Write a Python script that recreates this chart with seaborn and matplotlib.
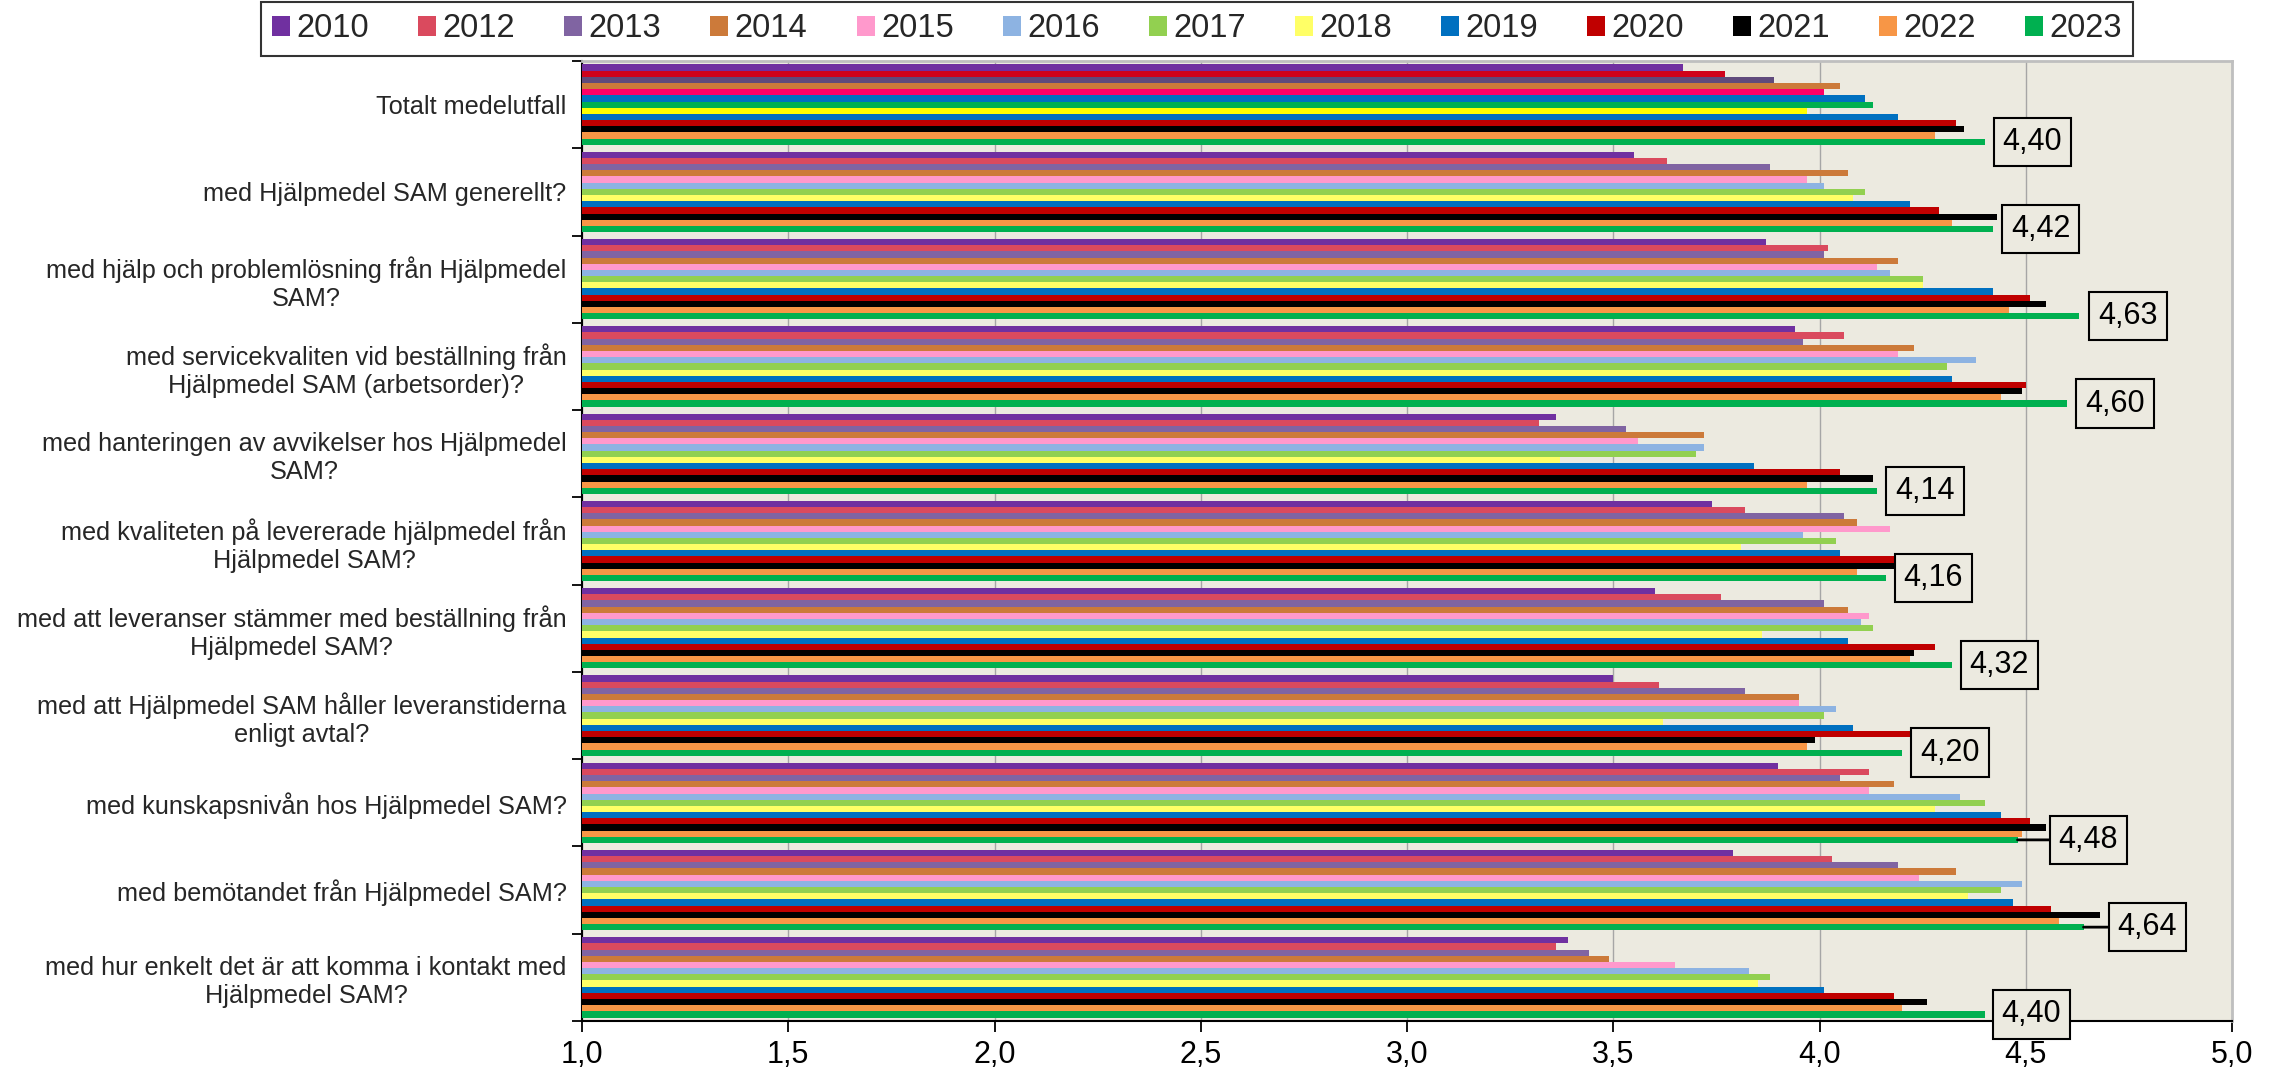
import matplotlib
matplotlib.use("Agg")
import matplotlib.pyplot as plt
from matplotlib.patches import Patch
from matplotlib.ticker import FuncFormatter, FixedLocator
import seaborn as sns
import pandas as pd
import numpy as np

categories = [
    "Totalt medelutfall",
    "med Hjälpmedel SAM generellt?",
    "med hjälp och problemlösning från Hjälpmedel\nSAM?",
    "med servicekvaliten vid beställning från\nHjälpmedel SAM (arbetsorder)?",
    "med hanteringen av avvikelser hos Hjälpmedel\nSAM?",
    "med kvaliteten på levererade hjälpmedel från\nHjälpmedel SAM?",
    "med att leveranser stämmer med beställning från\nHjälpmedel SAM?",
    "med att Hjälpmedel SAM håller leveranstiderna\nenligt avtal?",
    "med kunskapsnivån hos Hjälpmedel SAM?",
    "med bemötandet från Hjälpmedel SAM?",
    "med hur enkelt det är att komma i kontakt med\nHjälpmedel SAM?",
]

years = ["2010", "2012", "2013", "2014", "2015", "2016", "2017",
         "2018", "2019", "2020", "2021", "2022", "2023"]

v2010 = [3.67, 3.55, 3.87, 3.94, 3.36, 3.74, 3.60, 3.50, 3.90, 3.79, 3.39]
v2012 = [3.77, 3.63, 4.02, 4.06, 3.32, 3.82, 3.76, 3.61, 4.12, 4.03, 3.36]
v2013 = [3.89, 3.88, 4.01, 3.96, 3.53, 4.06, 4.01, 3.82, 4.05, 4.19, 3.44]
v2014 = [4.05, 4.07, 4.19, 4.23, 3.72, 4.09, 4.07, 3.95, 4.18, 4.33, 3.49]
v2015 = [4.01, 3.97, 4.14, 4.19, 3.56, 4.17, 4.12, 3.95, 4.12, 4.24, 3.65]
v2016 = [4.11, 4.01, 4.17, 4.38, 3.72, 3.96, 4.10, 4.04, 4.34, 4.49, 3.83]
v2017 = [4.13, 4.11, 4.25, 4.31, 3.70, 4.04, 4.13, 4.01, 4.40, 4.44, 3.88]
v2018 = [3.97, 4.08, 4.25, 4.22, 3.37, 3.81, 3.86, 3.62, 4.28, 4.36, 3.85]
v2019 = [4.19, 4.22, 4.42, 4.32, 3.84, 4.05, 4.07, 4.08, 4.44, 4.47, 4.01]
v2020 = [4.33, 4.29, 4.51, 4.50, 4.05, 4.22, 4.28, 4.25, 4.51, 4.56, 4.18]
v2021 = [4.35, 4.43, 4.55, 4.49, 4.13, 4.20, 4.23, 3.99, 4.55, 4.68, 4.26]
v2022 = [4.28, 4.32, 4.46, 4.44, 3.97, 4.09, 4.22, 3.97, 4.49, 4.58, 4.20]
v2023 = [4.40, 4.42, 4.63, 4.60, 4.14, 4.16, 4.32, 4.20, 4.48, 4.64, 4.40]

series = [v2010, v2012, v2013, v2014, v2015, v2016, v2017,
          v2018, v2019, v2020, v2021, v2022, v2023]

colors = ["#7030A0", "#DA4A5E", "#8064A2", "#CC7A3A", "#FF99CC", "#8DB3E2",
          "#92D050", "#FFFF66", "#0070C0", "#C00000", "#000000", "#F79646",
          "#00B050"]
# the first category was drawn with slightly different fills in the original
first_group_colors = ["#7030A0", "#D0021B", "#604A7B", "#CC7A3A", "#FF0066",
                      "#0070C0", "#00B050", "#FFFF00", "#0070C0", "#C00000",
                      "#000000", "#F79646", "#00B050"]

# label box offsets (px from bar end) and whether a leader line is drawn
label_offset_px = [9, 9, 10, 9, 9, 9, 9, 9, 32, 25, 8]
label_leader = [False] * 8 + [True, True, False]

rows = []
for y, vals in zip(years, series):
    for c, v in zip(categories, vals):
        rows.append({"category": c, "year": y, "value": v})
df = pd.DataFrame(rows)

sns.set_theme(style="white")
plt.rcParams["font.family"] = ["Liberation Sans", "DejaVu Sans"]

BG = "#ECEAE0"
W, H = 2277, 1070
fig = plt.figure(figsize=(W / 100, H / 100), dpi=100)
fig.patch.set_facecolor("white")
ax = fig.add_axes([582 / W, 1 - 1021 / H, (2232 - 582) / W, (1021 - 61) / H])
ax.set_facecolor(BG)

sns.barplot(data=df, x="value", y="category", hue="year", orient="h",
            order=categories, hue_order=years,
            palette=dict(zip(years, colors)), saturation=1,
            width=0.92, linewidth=0, ax=ax, legend=False, zorder=3)

for i, cont in enumerate(ax.containers):
    cont[0].set_facecolor(first_group_colors[i])

ax.set_xlim(1.0, 5.0)
ax.set_ylim(len(categories) - 0.5, -0.5)
ax.set_xlabel("")
ax.set_ylabel("")

ax.xaxis.set_major_locator(FixedLocator(np.arange(1.0, 5.01, 0.5)))
ax.xaxis.set_major_formatter(FuncFormatter(lambda v, p: f"{v:.1f}".replace(".", ",")))
ax.grid(axis="x", color="#A6A6A6", lw=1.0, zorder=0)
ax.set_axisbelow(True)
ax.tick_params(axis="x", which="major", direction="out", length=8, width=1.3,
               colors="black", labelsize=22, pad=6, bottom=True)

ax.set_yticks(range(len(categories)))
ax.set_yticklabels(categories, fontsize=18.2, multialignment="center")
ax.set_yticks(np.arange(-0.5, len(categories), 1.0), minor=True)
ax.tick_params(axis="y", which="major", length=0, pad=11)
ax.tick_params(axis="y", which="minor", direction="out", length=7, width=1.3,
               colors="black", left=True)

for s in ["top", "right"]:
    ax.spines[s].set_color("#BFBFBF")
    ax.spines[s].set_linewidth(2)
for s in ["left", "bottom"]:
    ax.spines[s].set_color("black")
    ax.spines[s].set_linewidth(1.5)

# value labels for the 2023 series
last = ax.containers[-1]
fs = 22
pad_px = 0.3 * fs / 0.72
for i, bar in enumerate(last):
    val = v2023[i]
    yb = bar.get_y() + bar.get_height() / 2
    txt = f"{val:.2f}".replace(".", ",")
    off_pt = (label_offset_px[i] + pad_px) * 0.72
    kw = {}
    if label_leader[i]:
        kw["arrowprops"] = dict(arrowstyle="-", color="black", lw=2,
                                shrinkA=0, shrinkB=0)
    ax.annotate(txt, xy=(val, yb), xytext=(off_pt, 0), textcoords="offset points",
                ha="left", va="center", fontsize=fs, color="black", zorder=6,
                bbox=dict(boxstyle="square,pad=0.3", fc=BG, ec="black", lw=1.5),
                **kw)

handles = [Patch(facecolor=c, edgecolor="none") for c in colors]
leg = fig.legend(handles, years, loc="upper center", ncol=len(years),
                 bbox_to_anchor=(1197 / W, 1 - 2 / H), borderaxespad=0,
                 frameon=True, fancybox=False, edgecolor="black", fontsize=23.5,
                 handlelength=0.55, handleheight=0.55, handletextpad=0.2,
                 columnspacing=1.5, borderpad=0.35)
leg.get_frame().set_linewidth(1.5)

fig.savefig("out.png", dpi=100, facecolor="white")
